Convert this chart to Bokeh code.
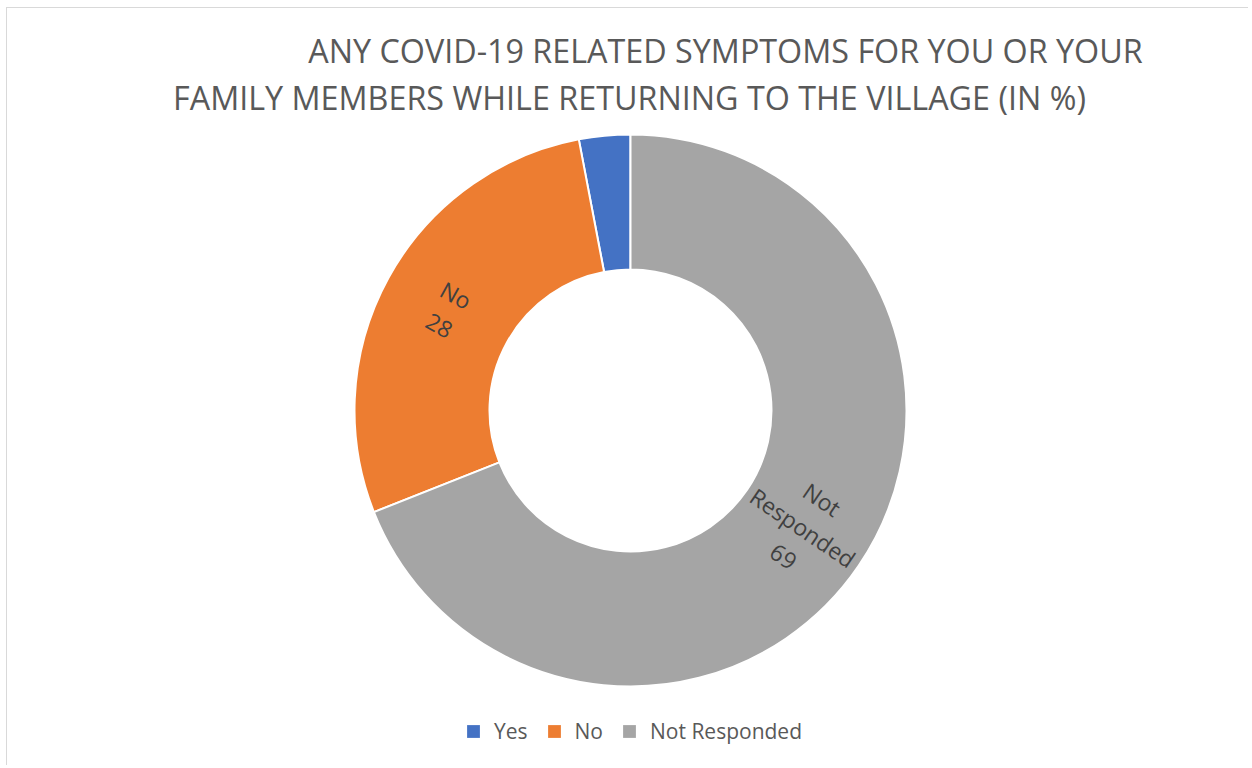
import numpy as np
from bokeh.plotting import figure
from bokeh.models import Range1d, Legend, LegendItem, ColumnDataSource
from bokeh.core.properties import value
from bokeh.embed import file_html
from bokeh.resources import INLINE

# ---- data ----
categories = ["Yes", "No", "Not Responded"]
values = [3, 28, 69]
colors = ["#4472C4", "#ED7D31", "#A5A5A5"]
label_texts = ["", "No\n28", "Not\nResponded\n69"]
title_lines = ["ANY COVID-19 RELATED SYMPTOMS FOR YOU OR YOUR",
               "FAMILY MEMBERS WHILE RETURNING TO THE VILLAGE (IN %)"]

# ---- layout (pixel-like data units) ----
W, H = 1242, 758
OX, OY = 7, 8


def sx(x):
    return x - OX


def sy(y):
    return H - (y - OY)


CX, CY = sx(630), sy(410)
R_OUT, R_IN = 276, 141

vals = np.array(values, dtype=float)
frac = vals / vals.sum()
ends = np.pi / 2 + 2 * np.pi * np.cumsum(frac)
starts = ends - 2 * np.pi * frac
mids = (starts + ends) / 2
r_mid = (R_OUT + R_IN) / 2
lx = CX + r_mid * np.cos(mids)
ly = CY + r_mid * np.sin(mids)
ang = np.where(np.cos(mids) < 0, mids - np.pi, mids)

src = ColumnDataSource(dict(cat=categories, val=values, color=colors,
                            start=starts, end=ends, lx=lx, ly=ly,
                            angle=ang, label=label_texts))

p = figure(width=W, height=H, x_range=Range1d(0, W), y_range=Range1d(0, H),
           output_backend="svg", toolbar_location=None,
           x_axis_location=None, y_axis_location=None, min_border=0)
p.grid.visible = False
p.outline_line_color = None
p.background_fill_color = "white"
p.border_fill_color = "white"
p.styles = {"margin-left": "6px", "margin-top": "7px",
            "border-left": "1px solid #D9D9D9", "border-top": "1px solid #D9D9D9"}

under = p.annular_wedge(x=CX, y=CY, inner_radius=R_IN, outer_radius=R_OUT,
                        start_angle="start", end_angle="end", direction="anticlock",
                        fill_color="color", line_color=None, source=src)
p.annular_wedge(x=CX, y=CY, inner_radius=R_IN, outer_radius=R_OUT,
                start_angle="start", end_angle="end", direction="anticlock",
                fill_color="color", line_color="white", line_width=2, source=src)

p.text(x="lx", y="ly", text="label", angle="angle", source=src,
       text_align="center", text_baseline="middle",
       text_font=value("Open Sans"), text_font_size="23px",
       text_color="#404040", text_line_height=1.07)

p.text(x=[sx(725), sx(629)], y=[sy(49), sy(96)], text=title_lines,
       text_align="center", text_baseline="alphabetic",
       text_font=value("Open Sans"), text_font_size="32.3px", text_color="#595959")

items = [LegendItem(label=c, renderers=[under], index=i) for i, c in enumerate(categories)]
legend = Legend(items=items, orientation="horizontal", location=(sx(465), sy(745)),
                glyph_width=16, glyph_height=16, label_standoff=13, spacing=18,
                padding=0, margin=0, border_line_color=None, background_fill_alpha=0,
                label_text_font="Open Sans", label_text_font_size="21px",
                label_text_color="#595959")
p.add_layout(legend, "center")

open("out.html", "w").write(file_html(p, INLINE))
